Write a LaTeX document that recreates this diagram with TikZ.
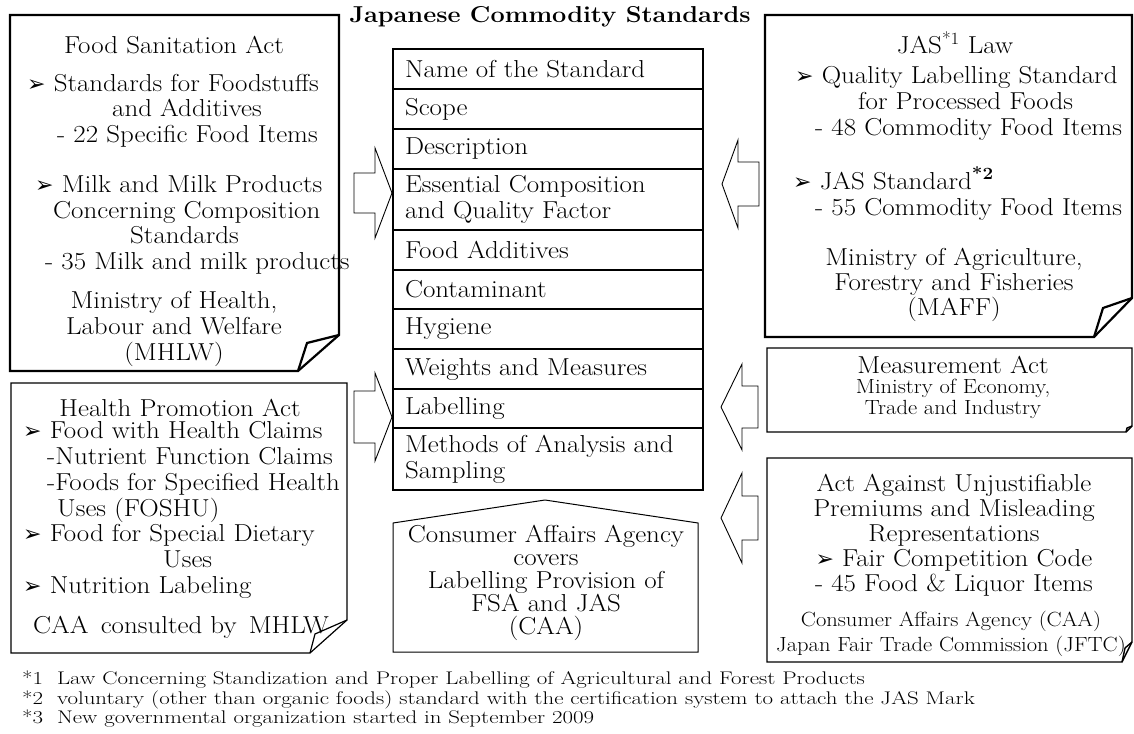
\documentclass[tikz,border=0pt]{standalone}
\usepackage{fontspec}
\setmainfont{Latin Modern Roman}[FakeStretch=1.1]
\newfontfamily\notefont{Latin Modern Roman}[FakeStretch=1.25]
\newfontfamily\symfont{DejaVu Sans}
\usetikzlibrary{positioning}
\newcommand\arr{{\symfont\fontsize{22}{22}\selectfont ➢}\ }

\begin{document}
\begin{tikzpicture}[x=1pt,y=-1pt,
      txt/.style={
         inner sep=0pt,
         align=center,
         font=\fontsize{24.5}{26}\selectfont},
      smalltxt/.style={
         inner sep=0pt,
         align=center,
         font=\fontsize{20.5}{21.5}\selectfont},
      listtxt/.style={txt, align=left, anchor=west},
      stdrow/.style={
         draw,
         line width=1.2pt,
         outer sep=0pt,
         inner xsep=12pt,
         inner ysep=0pt,
         text width=286pt,
         align=left,
         font=\fontsize{24.5}{26}\selectfont},
      blockarr/.style={line width=0.9pt, line join=miter},
      node distance=0pt
      ]
      \useasboundingbox (0,0) rectangle (1134,733);

      \node[inner sep=0pt, font=\fontsize{23}{26}\selectfont\bfseries] (title) at (550,17) {Japanese Commodity Standards};

      % items of a standard
      \node[stdrow, minimum height=40pt, anchor=north west] (r1) at (393,49) {Name of the Standard};
      \node[stdrow, minimum height=40pt, below=of r1] (r2) {Scope};
      \node[stdrow, minimum height=40pt, below=of r2] (r3) {Description};
      \node[stdrow, minimum height=61pt, below=of r3] (r4) {Essential Composition\\and Quality Factor};
      \node[stdrow, minimum height=40pt, below=of r4] (r5) {Food Additives};
      \node[stdrow, minimum height=39pt, below=of r5] (r6) {Contaminant};
      \node[stdrow, minimum height=40pt, below=of r6] (r7) {Hygiene};
      \node[stdrow, minimum height=40pt, below=of r7] (r8) {Weights and Measures};
      \node[stdrow, minimum height=39pt, below=of r8] (r9) {Labelling};
      \node[stdrow, minimum height=62pt, below=of r9] (r10) {Methods of Analysis and\\Sampling};
      \draw[line width=2.5pt] (r1.north west) rectangle (r10.south east);

    \foreach \l/\t/\r/\b/\dx/\dy/\fx/\fy/\w in {% left/top/right/bottom/fold x/fold y/flap x/flap y/width
      10/15/339/371/41/36/307/343/2.2,
      765/15/1132/337/38/39/1103/308/2.2,
      767/348/1132/432/6/6/1127/428/1.4,
      767/458/1132/662/10/20/1125/648/1.4,
      11/383/347/653/37/33/315/634/1.2}
    {
      \draw[line width=\w pt, line join=miter] (\l,\t) -- (\r,\t) -- (\r,\b-\dy) -- (\r-\dx,\b) -- (\l,\b) -- cycle;
      \draw[line width=\w pt] (\r,\b-\dy) -- (\fx,\fy) -- (\r-\dx,\b);
    }
      \draw[line width=1pt] (393,523) -- (545,500) -- (698,523) -- (698,652) -- (393,652) -- cycle;

    \foreach \tx/\cy/\bx/\ex/\hh/\sh in {% tip/centre/head base/tail/head half/shaft half
      392/193/375/354/45/20,
      392/417/375/354/44/26,
      722/184/738/759/44/22,
      721/407/742/758/43/21,
      721/518/742/758/45/22}
       \draw[blockarr] (\tx,\cy) -- (\bx,\cy-\hh) -- (\bx,\cy-\sh) -- (\ex,\cy-\sh) -- (\ex,\cy+\sh) -- (\bx,\cy+\sh) -- (\bx,\cy+\hh) -- cycle;

      % Food Sanitation Act
      \node[txt] (fsahead) at (174,45) {Food Sanitation Act};
      \node[listtxt, font=\fontsize{24.5}{25.5}\selectfont] (fsalist) at (27,174) {\arr Standards for Foodstuffs\\
        \hspace*{85pt}and Additives\\
        \hspace*{30pt}- 22 Specific Food Items\\[25pt]
        \hspace*{8pt}\arr Milk and Milk Products\\
        \hspace*{26pt}Concerning Composition\\
        \hspace*{103pt}Standards\\
        \hspace*{18pt}- 35 Milk and milk products};
      \node[txt, font=\fontsize{24.5}{26}\selectfont] (mhlw) at (174,329) {Ministry of Health,\\Labour and Welfare\\(MHLW)};

      % JAS Law
      \node[txt] (jashead) at (955,43) {JAS\textsuperscript{*1} Law};
      \node[listtxt] (jaslist) at (793,143) {\hspace*{2pt}\arr Quality Labelling Standard\\
        \hspace*{65pt}for Processed Foods\\
        \hspace*{22pt}- 48 Commodity Food Items\\[26pt]
        \arr JAS Standard\textsuperscript{\bfseries *2}\\
        \hspace*{22pt}- 55 Commodity Food Items};
      \node[txt, font=\fontsize{24.5}{25}\selectfont] (maff) at (954,285) {Ministry of Agriculture,\\Forestry and Fisheries\\(MAFF)};

      % Measurement Act
      \node[txt] (meashead) at (953,365) {Measurement Act};
      \node[smalltxt] (meti) at (953,399) {Ministry of Economy,\\Trade and Industry};

      % Act Against Unjustifiable Premiums
      \node[txt, font=\fontsize{24.5}{25}\selectfont] (aup) at (954,535) {Act Against Unjustifiable\\Premiums and Misleading\\Representations\\\arr Fair Competition Code\\- 45 Food \& Liquor Items};
      \node[smalltxt, font=\fontsize{20.5}{25}\selectfont] (jftc) at (951,634) {Consumer Affairs Agency (CAA)\\Japan Fair Trade Commission (JFTC)};

      % Consumer Affairs Agency
      \node[txt, font=\fontsize{24.5}{23}\selectfont] (caa) at (546,583) {Consumer Affairs Agency\\covers\\Labelling Provision of\\FSA and JAS\\(CAA)};

      % Health Promotion Act
      \node[txt] (hpahead) at (180,408) {Health Promotion Act};
      \node[listtxt, font=\fontsize{24.5}{25.7}\selectfont] (hpalist) at (23,510) {\arr Food with Health Claims\\
        \hspace*{24pt}-Nutrient Function Claims\\
        \hspace*{24pt}-Foods for Specified Health\\
        \hspace*{34pt}Uses (FOSHU)\\
        \arr Food for Special Dietary\\
        \hspace*{140pt}Uses\\
        \arr Nutrition Labeling};
      \node[listtxt] (consult) at (33,627) {CAA\, consulted by\, MHLW};

      % footnotes
      \node[inner sep=0pt, anchor=west, align=left, font=\notefont\fontsize{18.3}{19.5}\selectfont] (notes) at (22,699.5) {*1\ \ Law Concerning Standization and Proper Labelling of Agricultural and Forest Products\\
        *2\ \ voluntary (other than organic foods) standard with the certification system to attach the JAS Mark\\
        *3\ \ New governmental organization started in September 2009};
\end{tikzpicture}
\end{document}
